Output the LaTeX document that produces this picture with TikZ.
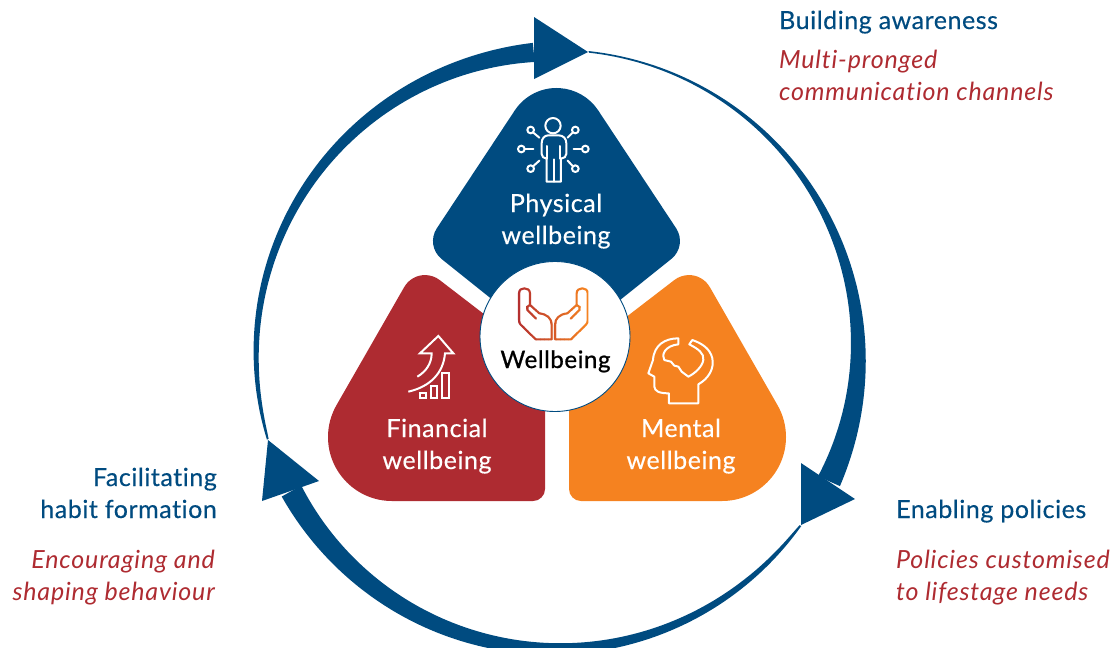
\documentclass[tikz,border=0pt]{standalone}
\usepackage{fontspec}
\setmainfont{Lato}
\newfontfamily\lblfont[FakeBold=0.4,LetterSpace=2.2,Ligatures=NoCommon]{Lato}
\newfontfamily\hubfont[FakeBold=0.9,LetterSpace=2.5,Ligatures=NoCommon]{Lato}
\newfontfamily\itfont[ItalicFont=* Italic,LetterSpace=3.3,Ligatures=NoCommon]{Lato}
\definecolor{mblue}{HTML}{004B80}
\definecolor{mred}{HTML}{AE2B31}
\definecolor{morange}{HTML}{F58220}
\definecolor{hfrom}{HTML}{B5302F}
\definecolor{hto}{HTML}{F58220}
\tikzset{
  whitelabel/.style={text=white,font=\lblfont\fontsize{25}{28}\selectfont,anchor=base,inner sep=0pt},
  headlabel/.style={text=mblue,font=\lblfont\fontsize{25}{28}\selectfont,anchor=base west,inner sep=0pt},
  headlabelr/.style={headlabel,anchor=base east},
  sublabel/.style={text=mred,font=\itfont\itshape\fontsize{25}{28}\selectfont,anchor=base west,inner sep=0pt},
  sublabelr/.style={sublabel,anchor=base east},
  ico/.style={draw=white,line width=2pt,line join=round,line cap=round},
  iconat/.style={x=0.33333pt,y=-0.33333pt,shift={#1}},
}
% crescent arc: angles a0 -> a1, inner and outer end radii, inner and outer growth exponents
\newcommand{\crescent}[6]{%
  \fill[mblue]
   plot[variable=\t,domain=0.001:1,samples=80,smooth] ({555.4+(301.8+(#4-301.8)*pow(\t,#6))*cos(#1+(#2-#1)*\t)},{351-(301.8+(#4-301.8)*pow(\t,#6))*sin(#1+(#2-#1)*\t)})
   -- plot[variable=\t,domain=1:0.001,samples=80,smooth] ({555.4+(300.2+(#3-300.2)*pow(\t,#5))*cos(#1+(#2-#1)*\t)},{351-(300.2+(#3-300.2)*pow(\t,#5))*sin(#1+(#2-#1)*\t)})
   -- cycle;}
\newcommand{\lobepath}{(545,361) -- (545,489) arc[start angle=0,end angle=90,radius=12] -- (392,501) arc[start angle=90,end angle=209.85,radius=64] -- (404.2,287.1) arc[start angle=209.85,end angle=307.7,radius=24] -- cycle}
\newcommand{\handpath}{
  \draw[line join=round,line cap=round,line width=2.1pt] (245,268) -- (197,268) -- (152,224) .. controls (148,220) and (147,216) .. (147,210) -- (147,130) .. controls (147,120) and (154,115) .. (163,115) .. controls (172,115) and (180,120) .. (180,130) -- (180,165) -- (208,190) .. controls (232,193) and (245,205) .. (245,225) -- cycle;
  \draw[line cap=round,line width=2.1pt] (180,165) .. controls (172,166) and (168,174) .. (172,180) -- (198,206);
}
\begin{document}
\begin{tikzpicture}[x=1pt,y=-1pt]
\useasboundingbox (0,0) rectangle (1114,648);
\clip (0,0) rectangle (1114,648);
% ring
\crescent{197.2}{94.1}{289.8}{309}{0.6}{3.5}
\crescent{83.8}{-25.5}{291}{315}{2.5}{1.7}
\crescent{-35.3}{-152.1}{287.6}{310}{0.6}{2}
\fill[mblue] (534,17) -- (588,52) -- (534,79) -- cycle;
\fill[mblue] (801,463) -- (855,499) -- (801,525) -- cycle;
\fill[mblue] (268,440) -- (319,481) -- (262,501) -- cycle;
% lobes
\fill[mblue] (556.5,351) -- (441.5,258.9) arc[start angle=129,end angle=213.7,radius=23] -- (514.9,110.25) arc[start angle=213.7,end angle=326.3,radius=50] -- (676.1,228.2) arc[start angle=326.3,end angle=411,radius=23] -- cycle;
\fill[mred] \lobepath;
\begin{scope}[shift={(1114,0)},xscale=-1]
\fill[morange] \lobepath;
\end{scope}
% centre
\node[circle,draw=mblue,line width=0.9pt,fill=white,minimum size=150pt,inner sep=0pt] (hub) at (555,336.5) {};
% hands, gradient by strips
\foreach \i in {0,...,17}{
  \pgfmathsetmacro{\pc}{\i/17*100}
  \colorlet{hc}{hto!\pc!hfrom}
  \begin{scope}
    \clip (516+\i*4,280) rectangle (516+\i*4+4.3,360);
    \begin{scope}[iconat={(1410,750)},draw=hc]
      \handpath
    \end{scope}
    \begin{scope}[iconat={(1410,750)},shift={(500,0)},xscale=-1,draw=hc]
      \handpath
    \end{scope}
  \end{scope}
}
% person icon
\begin{scope}[iconat={(1440,270)}]
  \draw[ico] (219,107) circle[radius=23];
  \draw[ico] (205,136) -- (236,136) .. controls (250,136) and (259,146) .. (259,160) -- (259,192) .. controls (259,200) and (252,205) .. (243,206) -- (243,275) -- (200,275) -- (200,206) .. controls (191,205) and (185,200) .. (185,192) -- (185,160) .. controls (185,146) and (193,136) .. (205,136) -- cycle;
  \draw[ico] (202,168) -- (202,206);
  \draw[ico] (241,168) -- (241,206);
  \draw[ico] (221,208) -- (221,275);
  \foreach \cx/\cy/\lx/\ly/\mx/\my in {152/120/159/127/178/143, 286/120/279/127/263/143, 124/177/134/177/160/177, 316/177/306/177/281/177, 152/236/159/229/178/212, 286/236/279/229/263/212}{
    \draw[ico] (\cx,\cy) circle[radius=10];
    \draw[ico] (\lx,\ly) -- (\mx,\my);
  }
\end{scope}
% growth icon
\begin{scope}[iconat={(1170,960)}]
  \draw[ico,line cap=butt,line join=miter] (82,170) .. controls (108,155) and (125,130) .. (125,100) -- (90,100) -- (145,48) -- (190,100) -- (165,100) .. controls (160,160) and (120,200) .. (55,215);
  \draw[ico,line join=miter] (90,219) rectangle (108,235);
  \draw[ico,line join=miter] (123,197) rectangle (142,235);
  \draw[ico,line join=miter] (157,158) rectangle (178,235);
\end{scope}
% head icon
\begin{scope}[iconat={(1905,975)}]
  \draw[ico] (130,40) .. controls (90,40) and (57,60) .. (54,105) -- (40,145) -- (58,155) -- (58,185) .. controls (60,198) and (70,205) .. (102,205) -- (102,235) -- (190,235) -- (190,178) .. controls (222,160) and (238,130) .. (232,100) .. controls (225,70) and (200,55) .. (172,45) -- (163,58) .. controls (190,72) and (208,85) .. (205,105) .. controls (202,125) and (180,145) .. (160,155) -- (140,140) -- (130,125) -- (118,122) -- (108,110) -- (88,105) .. controls (78,90) and (90,62) .. (130,58) -- cycle;
\end{scope}
% texts
\node[whitelabel] (p1) at (556,212) {Physical};
\node[whitelabel] (p2) at (556,244) {wellbeing};
\node[whitelabel] (f1) at (437,437) {Financial};
\node[whitelabel] (f2) at (437,469) {wellbeing};
\node[whitelabel] (m1) at (681,437) {Mental};
\node[whitelabel] (m2) at (681,469) {wellbeing};
\node[text=black,font=\hubfont\fontsize{24}{26}\selectfont,anchor=base,inner sep=0pt] (w) at (555.5,368) {Wellbeing};
\node[headlabel] (a1) at (779,29) {Building awareness};
\node[sublabel] (a2) at (779,68) {Multi-pronged};
\node[sublabel] (a3) at (779,100) {communication channels};
\node[headlabel] (b1) at (896,518) {Enabling policies};
\node[sublabel] (b2) at (896,568) {Policies customised};
\node[sublabel] (b3) at (896,600) {to lifestage needs};
\node[headlabelr] (c1) at (217,486) {Facilitating};
\node[headlabelr] (c2) at (217,518) {habit formation};
\node[sublabelr] (c3) at (215,568) {Encouraging and};
\node[sublabelr] (c4) at (215,600) {shaping behaviour};
\end{tikzpicture}
\end{document}
